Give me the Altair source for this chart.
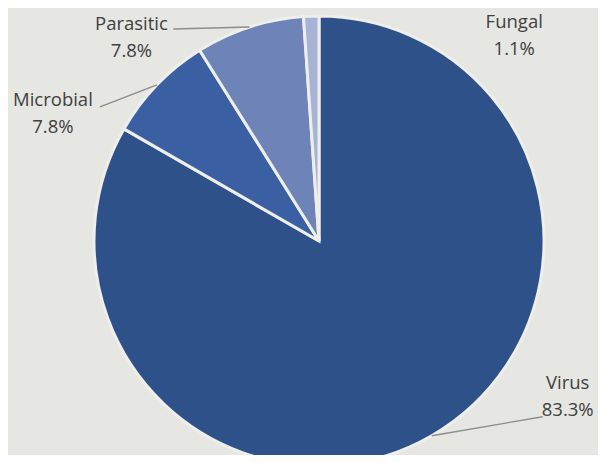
import math
import altair as alt
import pandas as pd

# ---- data ----
categories = ["Virus", "Microbial", "Parasitic", "Fungal"]
shares = [83.3, 7.8, 7.8, 1.1]
colors = ["#2f5189", "#3a5fa3", "#6e83b7", "#a6b3d4"]

# ---- layout (style, not data) ----
CX, CY, R = 311, 233, 225
LINE_H = 27
label_offset = {  # offset of label block centre from the slice's outer mid-point
    "Virus": (136, -39),
    "Microbial": (-104, 29),
    "Parasitic": (-118, 10),
    "Fungal": (203, 19),
}
leader_offset = {  # offset of leader end from the label centre
    "Virus": (-25, 20),
    "Microbial": (47, -7),
    "Parasitic": (42, -8),
}

df = pd.DataFrame({"category": categories, "share": shares, "order": range(len(categories))})
df["label"] = [f"{c}\n{s:.1f}%" for c, s in zip(categories, shares)]

total = sum(shares)
cum = 0.0
rows_lbl, rows_lead = [], []
for c, s in zip(categories, shares):
    mid = (cum + s / 2) / total * 2 * math.pi
    cum += s
    ex, ey = CX + R * math.sin(mid), CY - R * math.cos(mid)
    lx, ly = ex + label_offset[c][0], ey + label_offset[c][1]
    rows_lbl.append({"category": c, "lx": lx, "ly": ly - LINE_H / 2})
    if c in leader_offset:
        rows_lead.append({"category": c, "x": ex, "y": ey,
                          "x2": lx + leader_offset[c][0], "y2": ly + leader_offset[c][1]})

df = df.merge(pd.DataFrame(rows_lbl), on="category")
lead = pd.DataFrame(rows_lead)

pie = alt.Chart(df).mark_arc(stroke="#eeeeea", strokeWidth=3, outerRadius=R).encode(
    theta=alt.Theta("share:Q", stack=True),
    color=alt.Color("category:N", scale=alt.Scale(domain=categories, range=colors), legend=None),
    order=alt.Order("order:Q"),
    x=alt.value(CX),
    y=alt.value(CY),
)

leaders = alt.Chart(lead).mark_rule(color="#8c8c8c", strokeWidth=1.3).encode(
    x=alt.X("x:Q", scale=None),
    y=alt.Y("y:Q", scale=None),
    x2="x2:Q",
    y2="y2:Q",
)

labels = alt.Chart(df).mark_text(
    font="Open Sans", fontSize=18.5, color="#404040", align="center", baseline="middle",
    lineBreak="\n", lineHeight=LINE_H,
).encode(
    x=alt.X("lx:Q", scale=None),
    y=alt.Y("ly:Q", scale=None),
    text="label:N",
)

chart = alt.layer(pie, leaders, labels).properties(
    width=590, height=447, padding=0, autosize="none", background="#e6e6e2"
).configure_view(stroke=None)

chart.save("out.html", embed_options={"renderer": "svg", "actions": False})
